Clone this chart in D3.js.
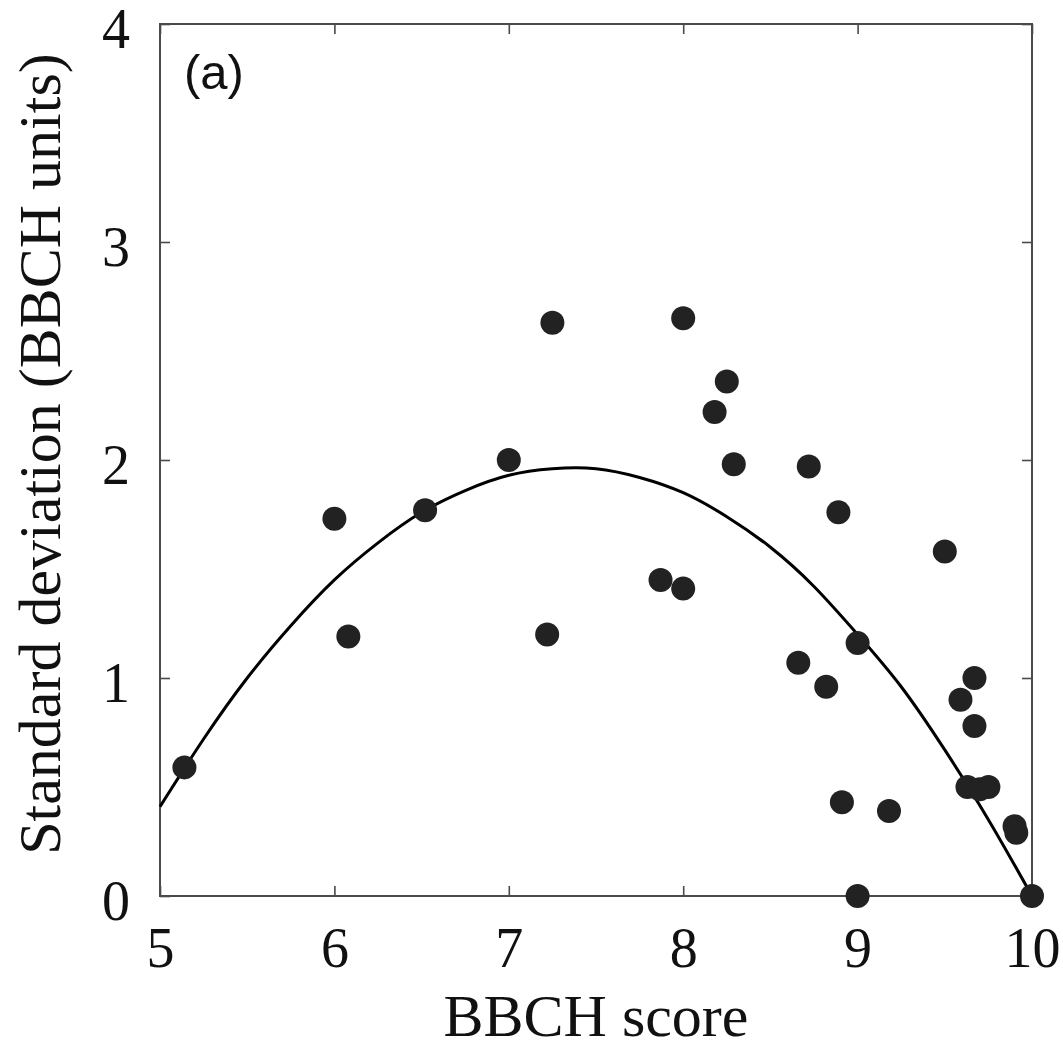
<!DOCTYPE html>
<html>
<head>
<meta charset="utf-8">
<script src="https://cdn.jsdelivr.net/npm/d3@7"></script>
<style>
  html, body { margin: 0; padding: 0; background: #fff; }
  svg { display: block; }
</style>
</head>
<body>
<svg id="chart" width="1063" height="1044"></svg>
<script>
// ---- data ----
const bbchScore = [5.14, 6.00, 6.08, 6.52, 7.00, 7.25, 7.22, 7.87, 8.00, 8.00, 8.25, 8.18, 8.29, 8.72, 8.89, 8.66, 8.82, 9.00, 8.91, 9.18, 9.00, 9.50, 9.59, 9.67, 9.67, 9.63, 9.70, 9.75, 9.90, 9.91, 10.00];
const stdDev    = [0.59, 1.73, 1.19, 1.77, 2.00, 2.63, 1.20, 1.45, 2.65, 1.41, 2.36, 2.22, 1.98, 1.97, 1.76, 1.07, 0.96, 1.16, 0.43, 0.39, 0.00, 1.58, 0.90, 1.00, 0.78, 0.50, 0.49, 0.50, 0.32, 0.29, 0.00];

// fitted curve
const fitX = [5.00, 5.25, 5.50, 5.75, 6.00, 6.25, 6.50, 6.75, 7.00, 7.25, 7.50, 7.75, 8.00, 8.25, 8.50, 8.75, 9.00, 9.25, 9.50, 9.75, 10.00];
const fitY = [0.41, 0.72, 1.00, 1.24, 1.45, 1.62, 1.76, 1.86, 1.93, 1.96, 1.96, 1.92, 1.85, 1.74, 1.60, 1.42, 1.20, 0.96, 0.67, 0.35, 0.00];

const xTicks = [5, 6, 7, 8, 9, 10];
const yTicks = [0, 1, 2, 3, 4];
const xDomain = [5, 10];
const yDomain = [0, 4];
const xLabel = "BBCH score";
const yLabel = "Standard deviation (BBCH units)";
const panelLabel = "(a)";

// ---- layout ----
const mLeft = 160, mRight = 1032, mTop = 24, mBottom = 896;
const svg = d3.select("#chart");
const x = d3.scaleLinear().domain(xDomain).range([mLeft, mRight]);
const y = d3.scaleLinear().domain(yDomain).range([mBottom, mTop]);

const serif = "'Liberation Serif', 'Times New Roman', Times, serif";
const frameColor = "#4a4a4a";
const tickLen = 10;

function styleAxis(g) {
  g.select(".domain").remove();
  g.selectAll(".tick line").attr("stroke", frameColor).attr("stroke-width", 1.6);
  g.selectAll(".tick text").attr("font-family", serif).attr("font-size", 56).attr("fill", "#111");
}

// bottom axis (inward ticks, labels below)
svg.append("g")
  .attr("transform", `translate(0,${mBottom})`)
  .call(d3.axisBottom(x).tickValues(xTicks).tickFormat(d3.format("d"))
        .tickSizeInner(-tickLen).tickSizeOuter(0).tickPadding(31))
  .call(styleAxis);

// top axis ticks only
svg.append("g")
  .attr("transform", `translate(0,${mTop})`)
  .call(d3.axisTop(x).tickValues(xTicks).tickFormat("")
        .tickSizeInner(-tickLen).tickSizeOuter(0))
  .call(styleAxis);

// left axis
svg.append("g")
  .attr("transform", `translate(${mLeft},0)`)
  .call(d3.axisLeft(y).tickValues(yTicks).tickFormat(d3.format("d"))
        .tickSizeInner(-tickLen).tickSizeOuter(0).tickPadding(30))
  .call(styleAxis)
  .call(g => g.selectAll(".tick text").attr("dy", "0.42em"));

// right axis ticks only
svg.append("g")
  .attr("transform", `translate(${mRight},0)`)
  .call(d3.axisRight(y).tickValues(yTicks).tickFormat("")
        .tickSizeInner(-tickLen).tickSizeOuter(0))
  .call(styleAxis);

// frame
svg.append("rect")
  .attr("x", mLeft).attr("y", mTop)
  .attr("width", mRight - mLeft).attr("height", mBottom - mTop)
  .attr("fill", "none").attr("stroke", frameColor).attr("stroke-width", 2);

// fitted curve
const fitData = fitX.map((d, i) => [d, fitY[i]]);
svg.append("path")
  .datum(fitData)
  .attr("fill", "none")
  .attr("stroke", "#000")
  .attr("stroke-width", 3)
  .attr("d", d3.line().x(d => x(d[0])).y(d => y(d[1])).curve(d3.curveNatural));

// points
const pts = bbchScore.map((d, i) => ({ x: d, y: stdDev[i] }));
svg.append("g").selectAll("circle")
  .data(pts).join("circle")
  .attr("cx", d => x(d.x))
  .attr("cy", d => y(d.y))
  .attr("r", 12)
  .attr("fill", "#222");

// axis labels
svg.append("text")
  .attr("x", (mLeft + mRight) / 2)
  .attr("y", 1036)
  .attr("text-anchor", "middle")
  .attr("font-family", serif)
  .attr("font-size", 60)
  .attr("fill", "#111")
  .text(xLabel);

svg.append("text")
  .attr("transform", `translate(60,${(mTop + mBottom) / 2 - 6}) rotate(-90)`)
  .attr("text-anchor", "middle")
  .attr("font-family", serif)
  .attr("font-size", 60)
  .attr("fill", "#111")
  .text(yLabel);

// panel label
svg.append("text")
  .attr("x", 184)
  .attr("y", 89)
  .attr("font-family", "'Liberation Sans', Arial, Helvetica, sans-serif")
  .attr("font-size", 49)
  .attr("fill", "#111")
  .text(panelLabel);
</script>
</body>
</html>
